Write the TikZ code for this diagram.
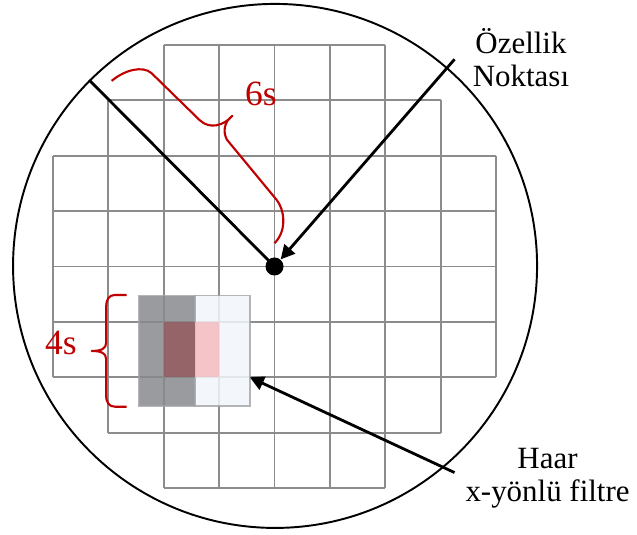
\documentclass[tikz,border=0pt]{standalone}
\usepackage{fontspec}
\setmainfont{Liberation Serif}
\usepackage{xcolor}
\definecolor{GridGray}{HTML}{8C8C8C}
\definecolor{BraceRed}{HTML}{C00000}
\definecolor{FilterDark}{HTML}{87898D}
\definecolor{FilterLight}{HTML}{F1F6FA}
\definecolor{FilterEdge}{HTML}{A0A3A6}
\definecolor{CellDark}{HTML}{945A5E}
\definecolor{CellLight}{HTML}{F5BCC0}
\usetikzlibrary{arrows.meta,positioning,calc}

\begin{document}
\begin{tikzpicture}[
  x=1.108cm,y=1.108cm,
  gridline/.style={draw=GridGray,line width=.95pt},
  rimline/.style={circle,draw=black,line width=1.1pt,minimum size=10.48cm,inner sep=0pt},
  filterhalf/.style={rectangle,draw=FilterEdge,draw opacity=.8,line width=.8pt,
    fill opacity=.85,inner sep=0pt,outer sep=0pt,minimum height=2.205cm},
  redbrace/.style={draw=BraceRed,line width=1.2pt,line join=round},
  radius line/.style={draw=black,line width=1.6pt},
  pointer/.style={-{Triangle[length=8pt,width=8pt]},draw=black,line width=1.6pt},
  keypoint/.style={circle,fill=black,minimum size=.36cm,inner sep=0pt},
  blacktext/.style={align=center,inner sep=0pt,font=\rmfamily\fontsize{17.6}{18.9}\selectfont},
  redtext/.style={text=BraceRed,inner sep=0pt,font=\rmfamily\fontsize{20.2}{22}\selectfont}
]
\useasboundingbox (-4.955,-4.829) rectangle (6.543,4.810);
\node[rimline] (rim) at (0.01,0.01) {};
\foreach \w/\ya/\yb in {2/3/4,3/2/3,4/-2/2,3/-3/-2,2/-4/-3}
  \draw[gridline] (-\w,\ya) grid[step=1] (\w,\yb);
\node[filterhalf,fill=FilterDark,minimum width=1.119cm] (hdark) at (-1.94,-1.5225) {};
\node[filterhalf,fill=FilterLight,minimum width=1.097cm,right=0pt of hdark] (hlight) {};
\fill[CellDark,fill opacity=.85] (-2,-2) rectangle (hdark.east |- 0,-1);
\fill[CellLight,fill opacity=.85] (hdark.east |- 0,-2) rectangle (-1,-1);
\node[keypoint] (kp) at (0,0) {};
\coordinate (featfrom) at (3.25,3.74);
\coordinate (haarfrom) at (3.25,-3.72);
\draw[radius line] (rim.135) -- (kp.center);
\draw[pointer] (featfrom) -- (kp);
\draw[pointer] (haarfrom) -- (hlight.-44);
\draw[redbrace] (-2.94,3.35) .. controls (-2.70,3.55) and (-2.38,3.63) .. (-2.22,3.49)
  -- (-1.35,2.64) .. controls (-1.17,2.47) and (-0.92,2.54) .. (-0.76,2.72)
  .. controls (-0.92,2.60) and (-0.93,2.42) .. (-0.86,2.29)
  -- (0.04,1.20) .. controls (0.17,1.04) and (0.24,0.66) .. (0.00,0.42);
\draw[redbrace] (-2.67,-0.514) -- (-2.88,-0.514)
  .. controls (-2.99,-0.514) and (-3.04,-0.60) .. (-3.04,-0.73) -- (-3.04,-1.38)
  .. controls (-3.04,-1.48) and (-3.12,-1.525) .. (-3.30,-1.525)
  .. controls (-3.12,-1.525) and (-3.04,-1.57) .. (-3.04,-1.67) -- (-3.04,-2.32)
  .. controls (-3.04,-2.45) and (-2.99,-2.531) .. (-2.88,-2.531) -- (-2.67,-2.531);
\node[redtext] (sixs) at (-0.244,3.114) {6s};
\node[redtext] (fours) at (-3.854,-1.39) {4s};
\node[blacktext] (featlabel) at (4.449,3.773) {Özellik\\Noktası};
\node[blacktext] (haarlabel) at (4.928,-3.827) {Haar\\x-yönlü filtre};
\end{tikzpicture}
\end{document}
